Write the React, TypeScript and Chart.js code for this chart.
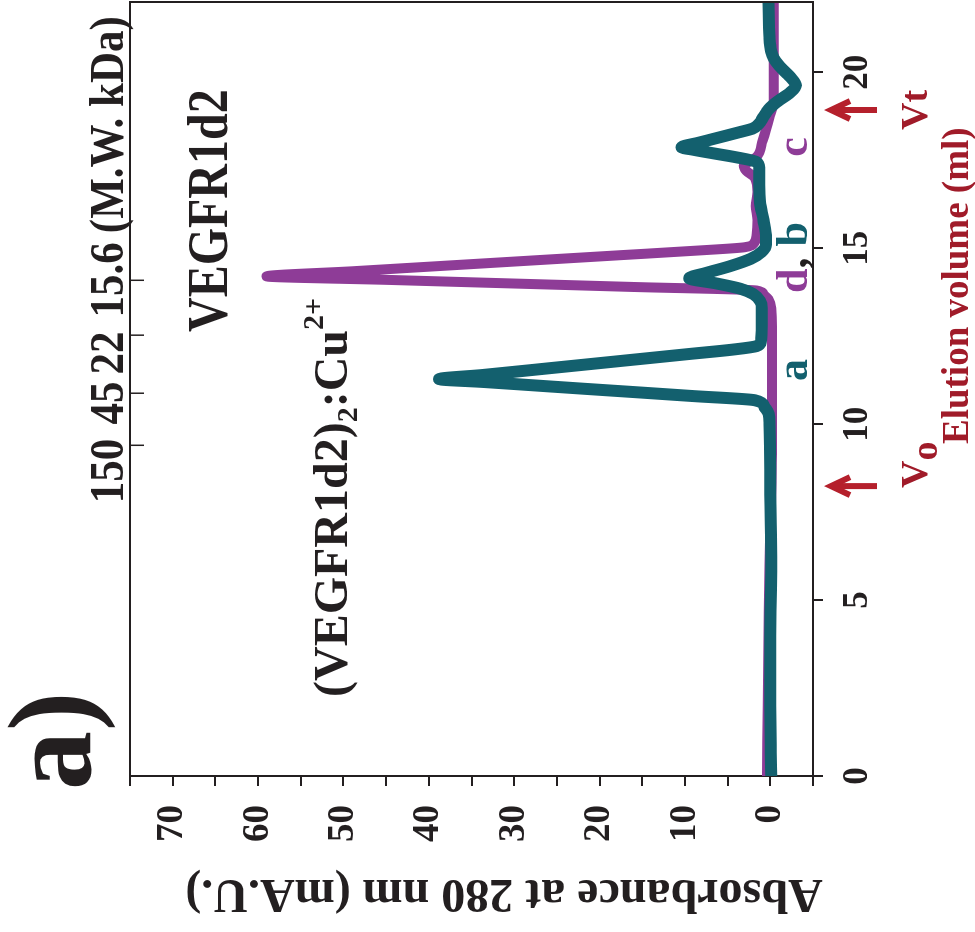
import React, { useEffect, useRef } from 'react';
import { Chart, registerables } from 'chart.js';

Chart.register(...registerables);

// ---- data (elution volume in ml, absorbance in mA.U.) ----
const volumeTeal = [0, 2, 4, 6, 8, 10, 10.3, 10.5, 10.68, 10.8, 10.9, 11.0, 11.1, 11.2, 11.28, 11.4, 11.6, 11.8, 12.0, 12.12, 12.22, 12.35, 12.8, 13.3, 13.5, 13.7, 13.85, 14.0, 14.15, 14.3, 14.5, 14.7, 14.9, 15.1, 15.3, 15.8, 16.3, 16.8, 17.3, 17.45, 17.6, 17.7, 17.8, 17.87, 18.0, 18.1, 18.2, 18.3, 18.4, 18.55, 18.7, 18.85, 19.0, 19.2, 19.4, 19.63, 19.85, 20.0, 20.2, 20.4, 20.6, 21.0, 22.0];
const absorbanceTeal = [-0.1, 0, 0, -0.1, 0, 0.1, 0.2, 0.7, 1.8, 9.1, 15.2, 21.4, 27.5, 33.6, 38.8, 33.6, 25.5, 17.4, 9.3, 4.4, 1.6, 1.1, 1.0, 1.0, 1.2, 2.0, 3.5, 6.3, 9.5, 7.5, 4.6, 2.3, 1.0, 0.5, 0.5, 0.8, 1.2, 1.3, 1.3, 1.6, 4.3, 6.7, 9.0, 10.4, 8.4, 6.8, 5.2, 3.6, 2.1, 1.3, 0.9, 0.5, 0.0, -1.0, -2.2, -3.0, -2.4, -1.8, -1.0, -0.4, -0.1, 0.1, 0.2];

const volumePurple = [0, 2, 4, 6, 8, 10, 12, 13.3, 13.55, 13.7, 13.8, 13.9, 14.0, 14.1, 14.2, 14.35, 14.5, 14.65, 14.8, 14.95, 15.03, 15.15, 15.4, 15.8, 16.2, 16.6, 17.0, 17.2, 17.35, 17.5, 17.6, 18.07, 18.72, 19.2, 20, 21, 22];
const absorbancePurple = [0.4, 0.3, 0.2, 0.1, -0.1, -0.2, -0.2, -0.1, 0.2, 0.8, 1.6, 16, 30.3, 44.6, 59, 48.7, 38.4, 28.1, 17.8, 7.5, 3.0, 1.9, 1.6, 1.5, 1.7, 1.5, 1.8, 2.8, 3.1, 2.2, 1.6, 0.9, 0.1, -0.4, -0.4, -0.4, -0.4];

// molecular-weight calibration markers (elution volume, label)
const mwVolumes = [9.4, 10.88, 12.53, 14.09];
const mwLabels = ['150', '45', '22', '15.6'];
const mwUnit = '(M.W. kDa)';

// void / total volume markers
const voidVolume = 8.24;
const totalVolume = 18.93;

// axis ranges and tick labels
const volumeRange = [0, 22];
const absorbanceRange = [-5, 75];
const absorbanceTickLabels = [0, 10, 20, 30, 40, 50, 60, 70];

const TEAL = '#13606e';
const PURPLE = '#8e3c97';
const AXIS = '#231f20';
const DARKRED = '#a01b29';
const ARROW = '#b5202c';
const FONT = "'Liberation Serif', 'Times New Roman', Times, serif";

function bold(size: number) {
  return `bold ${size}px ${FONT}`;
}

const annotate = {
  id: 'annotate',
  afterDraw(chart: any) {
    const { ctx, chartArea: a, scales } = chart;
    const xs = scales.x;
    const vx = (v: number) => xs.getPixelForValue(v);
    ctx.save();

    // frame (top & right)
    ctx.strokeStyle = AXIS;
    ctx.lineWidth = 2;
    ctx.beginPath();
    ctx.moveTo(a.left, a.top);
    ctx.lineTo(a.right, a.top);
    ctx.lineTo(a.right, a.bottom);
    ctx.stroke();

    // MW ticks
    ctx.lineWidth = 1.5;
    mwVolumes.forEach((v) => {
      const px = vx(v);
      ctx.beginPath();
      ctx.moveTo(px, a.top);
      ctx.lineTo(px, a.top + 14);
      ctx.stroke();
    });

    const text = (s: string, x: number, y: number, size: number, color: string, align: CanvasTextAlign = 'left', sy = 1) => {
      ctx.save();
      ctx.font = bold(size);
      ctx.fillStyle = color;
      ctx.textAlign = align;
      ctx.textBaseline = 'alphabetic';
      ctx.translate(x, y);
      ctx.scale(1, sy);
      ctx.fillText(s, 0, 0);
      ctx.restore();
    };

    // MW labels
    const mwLabelVolumes = [8.67, 10.6, 12.02, 14.1];
    mwLabels.forEach((s, i) => text(s, vx(mwLabelVolumes[i]), 123, 43, AXIS, 'center', 1.15));
    text(mwUnit, vx(15.43), 123, 43, AXIS, 'left', 1.15);

    // species labels
    text('VEGFR1d2', 600, 227, 48, AXIS, 'left', 1.2);
    let cx = 235;
    ctx.font = bold(48);
    text('(VEGFR1d2)', cx, 347, 48, AXIS);
    cx += ctx.measureText('(VEGFR1d2)').width;
    text('2', cx, 357, 30, AXIS);
    ctx.font = bold(30);
    cx += ctx.measureText('2').width;
    text(':Cu', cx, 347, 48, AXIS);
    ctx.font = bold(48);
    cx += ctx.measureText(':Cu').width;
    text('2+', cx, 323, 30, AXIS);

    // curve labels
    text('a', 562, 807, 44, TEAL, 'center');
    let lx = 639;
    ctx.font = bold(44);
    text('d', lx, 807, 44, PURPLE);
    lx += ctx.measureText('d').width;
    text(',', lx, 807, 44, AXIS);
    lx += ctx.measureText(', ').width;
    text('b', lx, 807, 44, TEAL);
    text('c', 785, 807, 44, PURPLE, 'center');

    // arrows
    ctx.strokeStyle = ARROW;
    ctx.lineWidth = 6;
    ctx.lineCap = 'butt';
    ctx.lineJoin = 'miter';
    [voidVolume, totalVolume].forEach((v) => {
      const px = vx(v);
      ctx.beginPath();
      ctx.moveTo(px, 877);
      ctx.lineTo(px, 833);
      ctx.stroke();
      ctx.beginPath();
      ctx.moveTo(px - 9, 850);
      ctx.lineTo(px, 831);
      ctx.lineTo(px + 9, 850);
      ctx.stroke();
    });

    // Vo / Vt
    text('V', 444, 927, 38, DARKRED);
    ctx.font = bold(38);
    text('o', 444 + ctx.measureText('V').width, 937, 38, DARKRED);
    text('Vt', vx(totalVolume), 927, 38, DARKRED, 'center');

    // axis titles
    text('Elution volume (ml)', 488, 968, 37, DARKRED);
    ctx.save();
    ctx.translate(52, 504);
    ctx.rotate(-Math.PI / 2);
    ctx.font = bold(48);
    ctx.fillStyle = AXIS;
    ctx.textAlign = 'center';
    ctx.textBaseline = 'alphabetic';
    ctx.fillText('Absorbance at 280 nm (mA.U.)', 0, 0);
    ctx.restore();

    // panel label
    text('a)', 142, 90, 118, AXIS);

    ctx.restore();
  },
};

export default function App() {
  const ref = useRef<HTMLCanvasElement>(null);

  useEffect(() => {
    const canvas = ref.current;
    if (!canvas) return;
    const tealData = volumeTeal.map((v, i) => ({ x: v, y: absorbanceTeal[i] }));
    const purpleData = volumePurple.map((v, i) => ({ x: v, y: absorbancePurple[i] }));

    const chart = new Chart(canvas, {
      type: 'line',
      data: {
        datasets: [
          {
            label: 'a, b: (VEGFR1d2)2:Cu2+',
            data: tealData,
            borderColor: TEAL,
            borderWidth: 12,
            pointRadius: 0,
            cubicInterpolationMode: 'monotone',
            borderCapStyle: 'round',
            borderJoinStyle: 'round',
            fill: false,
          },
          {
            label: 'c, d: VEGFR1d2',
            data: purpleData,
            borderColor: PURPLE,
            borderWidth: 10,
            pointRadius: 0,
            cubicInterpolationMode: 'monotone',
            borderCapStyle: 'round',
            borderJoinStyle: 'round',
            fill: false,
          },
        ],
      },
      options: {
        responsive: false,
        animation: false,
        devicePixelRatio: 1,
        events: [],
        layout: { padding: { top: 130, right: 2, left: 0, bottom: 0 } },
        plugins: { legend: { display: false }, tooltip: { enabled: false }, title: { display: false } },
        scales: {
          x: {
            type: 'linear',
            position: 'bottom',
            min: volumeRange[0],
            max: volumeRange[1],
            border: { display: true, color: AXIS, width: 2 },
            grid: { display: true, drawOnChartArea: false, drawTicks: true, tickLength: 10, color: AXIS, lineWidth: 2 },
            ticks: {
              stepSize: 5,
              includeBounds: false,
              autoSkip: false,
              maxRotation: 0,
              padding: 14,
              color: AXIS,
              font: { family: FONT, size: 35, weight: 'bold' },
            },
            afterFit(scale: any) {
              scale.height = 162;
            },
          },
          y: {
            type: 'linear',
            position: 'left',
            min: absorbanceRange[0],
            max: absorbanceRange[1],
            border: { display: true, color: AXIS, width: 2 },
            grid: { display: true, drawOnChartArea: false, drawTicks: true, tickLength: 10, color: AXIS, lineWidth: 2 },
            ticks: {
              stepSize: 5,
              autoSkip: false,
              padding: 19,
              color: AXIS,
              font: { family: FONT, size: 37, weight: 'bold' },
              callback: (v: any) => (absorbanceTickLabels.includes(Number(v)) ? String(v) : ''),
            },
            afterFit(scale: any) {
              scale.width = 156;
            },
          },
        },
      },
      plugins: [annotate],
    } as any);

    return () => chart.destroy();
  }, []);

  return (
    <div style={{ position: 'fixed', left: 0, top: 0, width: 975, height: 932, overflow: 'hidden', background: '#fff' }}>
      <canvas
        ref={ref}
        width={932}
        height={975}
        style={{
          position: 'absolute',
          left: 0,
          top: 0,
          width: 932,
          height: 975,
          transformOrigin: '0 0',
          transform: 'translate(0px, 932px) rotate(-90deg)',
        }}
      />
    </div>
  );
}
